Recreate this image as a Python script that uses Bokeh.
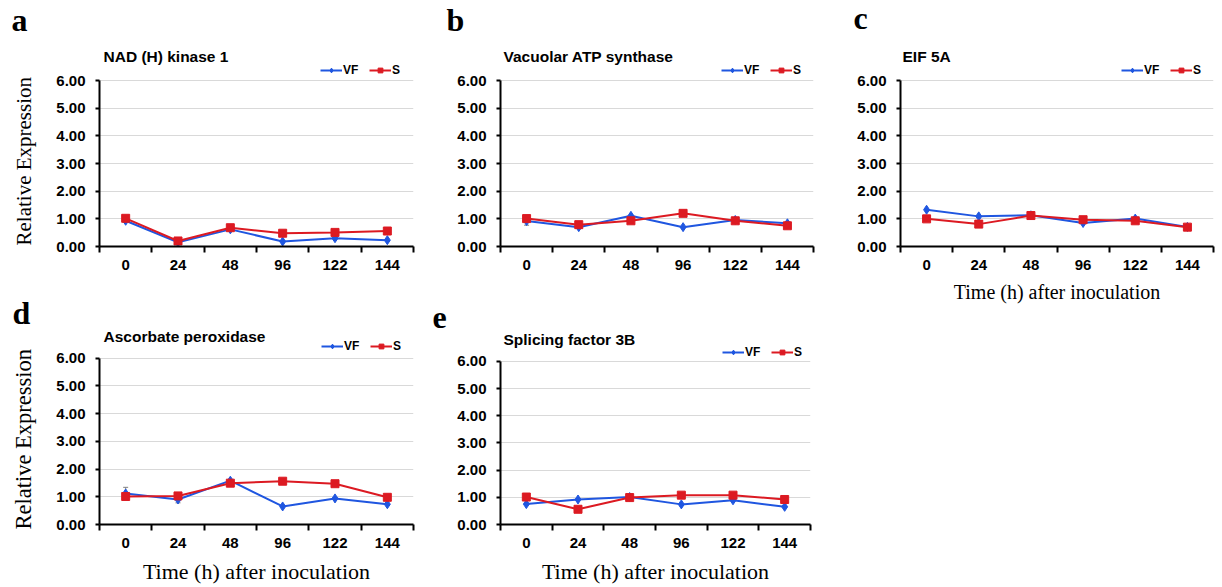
from bokeh.plotting import figure
from bokeh.models import (Range1d, FixedTicker, NumeralTickFormatter, Label, Legend,
                          LegendItem, Whisker, ColumnDataSource, TeeHead, Title)
from bokeh.layouts import column, row
from bokeh.embed import file_html
from bokeh.resources import INLINE

# ---------------- data ----------------
times = ["0", "24", "48", "96", "122", "144"]
series_names = ["VF", "S"]
panel_letters = ["a", "b", "c", "d", "e"]
panel_titles = ["NAD (H) kinase 1", "Vacuolar ATP synthase", "EIF 5A",
                "Ascorbate peroxidase", "Splicing factor 3B"]

a_vf = [0.93, 0.15, 0.62, 0.18, 0.30, 0.23]
a_s = [1.02, 0.20, 0.68, 0.48, 0.51, 0.56]
b_vf = [0.92, 0.70, 1.11, 0.70, 0.96, 0.84]
b_s = [1.01, 0.79, 0.93, 1.20, 0.93, 0.75]
c_vf = [1.33, 1.09, 1.13, 0.85, 1.01, 0.71]
c_s = [1.00, 0.81, 1.12, 0.97, 0.93, 0.70]
d_vf = [1.12, 0.90, 1.58, 0.65, 0.94, 0.73]
d_s = [1.01, 1.03, 1.49, 1.56, 1.47, 0.98]
e_vf = [0.75, 0.92, 1.01, 0.74, 0.89, 0.65]
e_s = [1.01, 0.56, 0.99, 1.08, 1.08, 0.92]

a_vf_err = [0, 0, 0, 0, 0, 0]
a_s_err = [0, 0, 0, 0, 0, 0]
b_vf_err = [0.15, 0, 0, 0, 0, 0]
b_s_err = [0, 0, 0, 0, 0, 0]
c_vf_err = [0, 0, 0, 0, 0, 0]
c_s_err = [0, 0, 0, 0, 0, 0]
d_vf_err = [0.22, 0.12, 0, 0, 0, 0]
d_s_err = [0, 0, 0, 0, 0.08, 0]
e_vf_err = [0, 0, 0, 0, 0, 0]
e_s_err = [0, 0, 0, 0, 0, 0]

y_ticks = [0, 1, 2, 3, 4, 5, 6]
x_label = "Time (h) after inoculation"
y_label = "Relative Expression"

BLUE = "#1f56e0"
RED = "#dc1a22"
SANS = "Liberation Sans"
SERIF = "Liberation Serif"
HAS_PAD = "padding" in Title.properties()


def pad_bottom(n):
    return dict(left=0, right=0, top=0, bottom=n)


def make_panel(letter, title, vf, s, vf_err, s_err, width, height, bl, br, bt, bb,
               y_end, ylabel, ylabel_size, ylabel_offset, xlabel, xlabel_size,
               letter_offset, letter_standoff, letter_pad, title_xy, legend_xy):
    idx = list(range(len(times)))
    p = figure(width=width, height=height, x_range=Range1d(-0.5, len(times) - 0.5),
               y_range=Range1d(0, y_end), output_backend="svg", toolbar_location=None,
               min_border_left=bl, min_border_right=br, min_border_top=bt,
               min_border_bottom=bb, title=letter)
    p.title.align = "left"
    p.title.offset = letter_offset
    p.title.standoff = letter_standoff
    p.title.text_font = SERIF
    p.title.text_font_style = "bold"
    p.title.text_font_size = "32px"
    p.title.text_color = "black"
    if HAS_PAD and letter_pad:
        p.title.padding = pad_bottom(letter_pad)

    p.outline_line_color = None
    p.background_fill_color = "white"
    p.border_fill_color = "white"
    p.xgrid.visible = False
    p.ygrid.ticker = FixedTicker(ticks=y_ticks[1:])
    p.ygrid.grid_line_color = "#d9d9d9"
    p.ygrid.grid_line_width = 1

    xa = p.xaxis[0]
    xa.ticker = FixedTicker(ticks=idx, minor_ticks=[i - 0.5 for i in range(len(times) + 1)])
    xa.major_label_overrides = {i: t for i, t in enumerate(times)}
    xa.major_tick_line_color = None
    xa.major_tick_out = 0
    xa.major_tick_in = 0
    xa.minor_tick_out = 6
    xa.minor_tick_in = 0
    xa.minor_tick_line_width = 2
    xa.minor_tick_line_color = "black"
    xa.axis_line_width = 2
    xa.axis_line_color = "black"
    xa.major_label_standoff = 7
    xa.major_label_text_font = SANS
    xa.major_label_text_font_style = "bold"
    xa.major_label_text_font_size = "15px"
    xa.major_label_text_color = "black"
    if xlabel:
        xa.axis_label = xlabel
        xa.axis_label_text_font = SERIF
        xa.axis_label_text_font_style = "normal"
        xa.axis_label_text_font_size = xlabel_size
        xa.axis_label_standoff = 8
        xa.axis_label_text_color = "black"

    ya = p.yaxis[0]
    ya.ticker = FixedTicker(ticks=y_ticks)
    ya.formatter = NumeralTickFormatter(format="0.00")
    ya.bounds = (0, 6)
    ya.major_tick_out = 4
    ya.major_tick_in = 0
    ya.major_tick_line_width = 2
    ya.minor_tick_line_color = None
    ya.axis_line_width = 2
    ya.axis_line_color = "black"
    ya.major_label_standoff = 10
    ya.major_label_text_font = SANS
    ya.major_label_text_font_style = "bold"
    ya.major_label_text_font_size = "15px"
    ya.major_label_text_color = "black"

    if ylabel:
        yt = Title(text=ylabel, align="left", offset=ylabel_offset, standoff=-4,
                   text_font=SERIF, text_font_style="normal",
                   text_font_size=ylabel_size, text_color="black")
        if HAS_PAD:
            yt.padding = pad_bottom(20)
        p.add_layout(yt, "left")

    # error bars
    for vals, errs in ((vf, vf_err), (s, s_err)):
        xs = [i for i, e in zip(idx, errs) if e > 0]
        if xs:
            up = [vals[i] + errs[i] for i in xs]
            lo = [vals[i] - errs[i] for i in xs]
            src = ColumnDataSource(dict(x=xs, upper=up, lower=lo))
            p.add_layout(Whisker(source=src, base="x", upper="upper", lower="lower",
                                 line_color="#808080", line_width=1,
                                 upper_head=TeeHead(size=5, line_color="#808080"),
                                 lower_head=TeeHead(size=5, line_color="#808080")))

    l_vf = p.line(idx, vf, line_color=BLUE, line_width=2)
    m_vf = p.scatter(idx, vf, marker="diamond", size=9, fill_color=BLUE, line_color=BLUE)
    l_s = p.line(idx, s, line_color=RED, line_width=2)
    m_s = p.scatter(idx, s, marker="square", size=8, fill_color=RED, line_color=RED)

    legend = Legend(items=[LegendItem(label=series_names[0], renderers=[l_vf, m_vf]),
                           LegendItem(label=series_names[1], renderers=[l_s, m_s])],
                    orientation="horizontal", location=legend_xy,
                    background_fill_alpha=0, border_line_color=None,
                    label_text_font=SANS, label_text_font_style="bold",
                    label_text_font_size="12px", label_text_color="black",
                    padding=1, margin=0, spacing=6, glyph_width=22, glyph_height=12,
                    label_height=12, label_standoff=1)
    p.add_layout(legend)

    p.add_layout(Label(x=title_xy[0], y=title_xy[1], x_units="screen", y_units="screen",
                       text=title, text_font=SANS, text_font_style="bold",
                       text_font_size="15.5px", text_color="black",
                       text_baseline="alphabetic"))
    return p


pa = make_panel(panel_letters[0], panel_titles[0], a_vf, a_s, a_vf_err, a_s_err,
                420, 290, 99, 6, 47, 44, 7.2, y_label, "21px", 1, None, None,
                -88, -6, 13, (4, 190), (221, 169))
pb = make_panel(panel_letters[1], panel_titles[1], b_vf, b_s, b_vf_err, b_s_err,
                403, 290, 79, 10, 47, 44, 7.2, None, None, 0, None, None,
                -54, -6, 13, (3, 190), (221, 169))
pc = make_panel(panel_letters[2], panel_titles[2], c_vf, c_s, c_vf_err, c_s_err,
                397, 320, 77, 7, 47, 74, 7.2, None, None, 0, x_label, "20px",
                -47, -18, 21, (2, 190), (221, 169))
pd = make_panel(panel_letters[3], panel_titles[3], d_vf, d_s, d_vf_err, d_s_err,
                420, 296, 99, 7, 37, 61, 7.1, y_label, "22.5px", -5, x_label, "22px",
                -87, -6, 0, (4, 188), (222, 171))
pe = make_panel(panel_letters[4], panel_titles[4], e_vf, e_s, e_vf_err, e_s_err,
                400, 296, 80, 5, 41, 59, 7.1, None, None, 0, x_label, "22px",
                -68, -6, 7, (3, 185), (222, 165))

layout = row(column(pa, pd, spacing=0), column(pb, pe, spacing=0), pc, spacing=0)

open("out.html", "w").write(file_html(layout, INLINE))
